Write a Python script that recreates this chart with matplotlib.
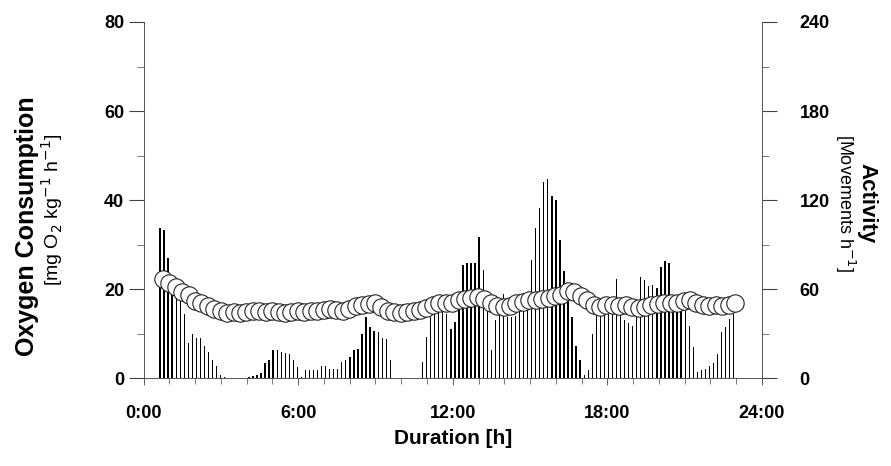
import numpy as np
import matplotlib

matplotlib.use("Agg")

import matplotlib.pyplot as plt
from matplotlib.ticker import MultipleLocator, FuncFormatter


# activity (movements per hour), one bar per interval
activity = [
    101, 100, 81, 60, 58, 54, 43, 24, 30, 27,
    27, 22, 18, 12, 8, 2, 1, 0.5, 0.5, 0.5,
    0.5, 0.5, 1, 1.5, 2, 3.5, 10, 12, 19, 19,
    18, 17, 16.5, 12, 7.5, 1, 5.5, 5.5, 5.5, 5.5,
    8, 8, 6.5, 6.5, 6.5, 11, 12.5, 14.5, 19, 19.5,
    30, 41, 34.5, 32, 31, 27, 26.5, 12, 0.5, 0.5,
    0.5, 0.5, 0.5, 0.5, 0.5, 11, 28, 41, 43, 48,
    50, 43, 33, 38, 54, 76, 78, 78, 78, 95,
    73, 48, 19, 39, 43, 57, 41, 41, 42, 57,
    51, 54, 80, 101, 115, 132, 134, 123, 120, 93,
    72, 54, 41, 22, 12, 2, 5.5, 30, 48, 45,
    45, 44, 43, 67, 43, 39, 37, 35, 48, 68,
    66, 62, 63, 61, 75, 79, 78, 54, 53, 46,
    48, 35, 21, 4, 5.5, 6, 8, 10.5, 16.5, 31,
    34.5, 40, 43,
]
act_start, act_end = 0.64, 22.9

# oxygen consumption (mg O2 kg-1 h-1)
oxygen = [
    22.2, 21.5, 20.5, 19.3, 18.8, 17.3, 17.0, 16.3, 15.6, 15.0,
    14.6, 14.8, 14.7, 14.8, 15.0, 15.1, 14.8, 15.0, 14.8, 14.7,
    14.8, 15.0, 14.8, 15.0, 15.2, 15.3, 15.6, 15.3, 15.0, 15.6,
    16.2, 16.4, 16.6, 16.8, 16.0, 15.0, 14.8, 14.7, 14.9, 15.0,
    15.3, 15.8, 16.5, 16.8, 16.8, 16.8, 17.5, 17.8, 18.0, 18.3,
    17.8, 17.0, 16.3, 15.9, 16.2, 16.8, 17.2, 17.5, 17.6, 17.8,
    18.0, 18.5, 18.8, 19.5, 19.3, 18.5, 17.5, 16.5, 16.0, 16.5,
    16.4, 16.2, 16.5, 16.0, 15.7, 16.0, 16.5, 16.7, 16.8, 17.0,
    17.0, 17.3, 17.5, 17.0, 16.5, 16.3, 16.5, 16.2, 16.5, 16.8,
]
oxy_start, oxy_end = 0.75, 22.95

act_t = np.linspace(act_start, act_end, len(activity))
oxy_t = np.linspace(oxy_start, oxy_end, len(oxygen))

plt.rcParams["font.family"] = ["Liberation Sans", "DejaVu Sans"]

fig = plt.figure(figsize=(8.91, 4.66), dpi=100)
ax = fig.add_axes([143.5 / 891, 1 - 378.3 / 466, (762 - 143.5) / 891, (378.3 - 22) / 466])
ax2 = ax.twinx()

ax2.bar(act_t, activity, width=0.05, color="black", align="center")
ax.plot(oxy_t, oxygen, "o", ms=12.5, mfc="white", mec="#222222", mew=0.8, zorder=3)

# circles drawn above the bars
ax.set_zorder(ax2.get_zorder() + 1)
ax.patch.set_visible(False)

ax.set_xlim(0, 24)
ax.set_ylim(0, 80)
ax2.set_ylim(0, 240)

for a in (ax, ax2):
    a.spines["top"].set_visible(False)
    for s in ("left", "right", "bottom"):
        a.spines[s].set_linewidth(0.6)
        a.spines[s].set_color("#555555")
        a.spines[s].set_linestyle((0, (2, 1)))

ax.xaxis.set_major_locator(MultipleLocator(6))
ax.xaxis.set_minor_locator(MultipleLocator(1))
ax.xaxis.set_major_formatter(FuncFormatter(lambda v, p: f"{int(v)}:00"))
ax.yaxis.set_major_locator(MultipleLocator(20))
ax.yaxis.set_minor_locator(MultipleLocator(10))
ax2.yaxis.set_major_locator(MultipleLocator(60))
ax2.yaxis.set_minor_locator(MultipleLocator(30))

ax.tick_params(axis="x", which="major", length=5, width=0.6, pad=14, color="#444444")
ax.tick_params(axis="x", which="minor", length=4, width=0.5, color="#444444")
ax.tick_params(axis="y", which="major", length=11, width=0.8, pad=3, color="#444444")
ax.tick_params(axis="y", which="minor", length=5, width=0.5, color="#444444")
ax2.tick_params(axis="y", which="major", length=11, width=0.8, pad=16, color="#444444")
ax2.tick_params(axis="y", which="minor", length=5, width=0.5, color="#444444")

for lab in ax.get_xticklabels() + ax.get_yticklabels() + ax2.get_yticklabels():
    lab.set_fontsize(13)
    lab.set_fontweight("bold")

ax.set_xlabel("Duration [h]", fontsize=15, fontweight="bold", labelpad=5)

fig.text(0.030, 0.515, "Oxygen Consumption", rotation=90, ha="center", va="center",
         fontsize=18, fontweight="bold")
fig.text(0.058, 0.55, r"[mg O$_2$ kg$^{-1}$ h$^{-1}$]", rotation=90, ha="center",
         va="center", fontsize=14)
fig.text(0.973, 0.565, "Activity", rotation=270, ha="center", va="center",
         fontsize=16, fontweight="bold")
fig.text(0.948, 0.565, r"[Movements h$^{-1}$]", rotation=270, ha="center",
         va="center", fontsize=13)

fig.savefig("out.png", dpi=100)
